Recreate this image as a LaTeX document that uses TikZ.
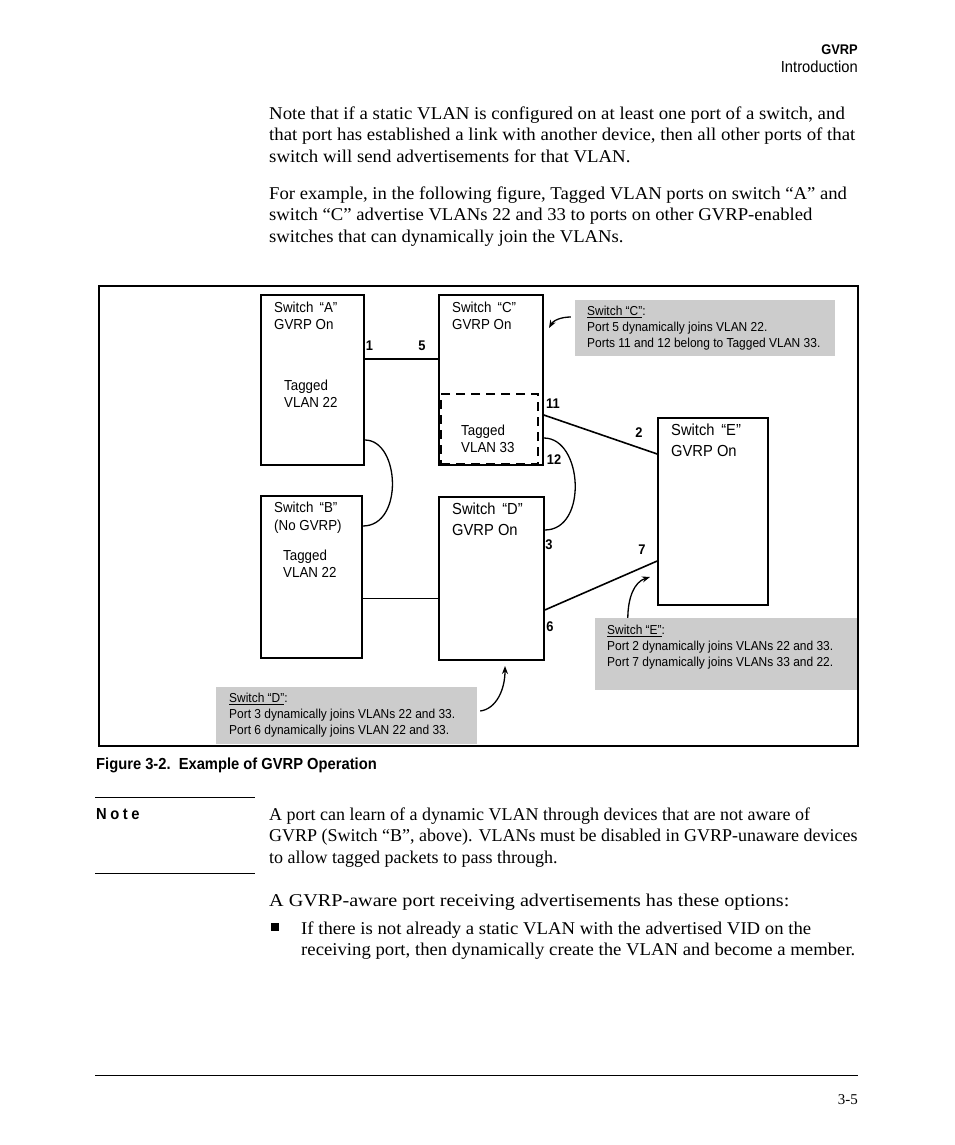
\documentclass[tikz,border=0pt]{standalone}
\usepackage{fontspec}
\setmainfont{Liberation Serif}
\newfontfamily\cond[FakeStretch=0.92]{Liberation Sans}
\usetikzlibrary{arrows.meta,positioning,calc}

\begin{document}
\begin{tikzpicture}[
  x=1pt, y=-1pt,
  every node/.style={inner sep=0pt},
  body/.style={font=\fontsize{18}{21.5}\selectfont\addfontfeature{FakeStretch=#1},
               anchor=base west, align=left},
  body/.default=1.04,
  lbl/.style={font=\cond\fontsize{14.5}{17.5}\selectfont, anchor=base west, align=left},
  biglbl/.style={font=\cond\fontsize{16}{20.5}\selectfont, anchor=base west, align=left},
  switchbox/.style={draw, line width=1.6pt},
  port/.style={font=\cond\bfseries\fontsize{14}{14}\selectfont, anchor=base},
  callout/.style={fill=gray!40},
  note/.style={font=\cond\fontsize{13}{16}\selectfont, anchor=base west, align=left},
  link/.style={line width=1.6pt},
  pointer/.style={line width=1.3pt, -{Stealth[length=8pt,width=6pt]}},
]
\useasboundingbox (0,0) rectangle (954,1145);

% page head
\node[font=\cond\bfseries\fontsize{14}{14}\selectfont, anchor=base east] (head) at (858,54.5) {GVRP};
\node[font=\cond\fontsize{16}{16}\selectfont, anchor=base east] (section) at (858,72.5) {Introduction};

% multi-line nodes sit on the baseline of their last line
\node[body=1.046] (para1) at (269,162)
  {Note that if a static VLAN is configured on at least one port of a switch, and\\
   that port has established a link with another device, then all other ports of that\\
   switch will send advertisements for that VLAN.};
\node[body=1.038] (para2) at (269,242)
  {For example, in the following figure, Tagged VLAN ports on switch “A” and\\
   switch “C” advertise VLANs 22 and 33 to ports on other GVRP-enabled\\
   switches that can dynamically join the VLANs.};

% callouts (under the frame)
\node[callout, minimum width=260, minimum height=56] (noteC) at (705,328) {};
\node[callout, minimum width=262, minimum height=72] (noteE) at (726,654) {};
\node[callout, minimum width=261, minimum height=57] (noteD) at (346.5,715.5) {};
\node[note] (noteCtext) at (587,347.5)
  {\underline{Switch “C”}:\\Port 5 dynamically joins VLAN 22.\\Ports 11 and 12 belong to Tagged VLAN 33.};
\node[note] (noteEtext) at (607,666.5)
  {\underline{Switch “E”}:\\Port 2 dynamically joins VLANs 22 and 33.\\Port 7 dynamically joins VLANs 33 and 22.};
\node[note] (noteDtext) at (229,734.5)
  {\underline{Switch “D”}:\\Port 3 dynamically joins VLANs 22 and 33.\\Port 6 dynamically joins VLAN 22 and 33.};

% switches
\node[switchbox, minimum width=103, minimum height=170] (swA) at (312.5,380) {};
\node[switchbox, minimum width=104, minimum height=170] (swC) at (491,380) {};
\node[switchbox, minimum width=101, minimum height=162] (swB) at (311.5,577) {};
\node[switchbox, minimum width=105, minimum height=163] (swD) at (491.5,578.5) {};
\node[switchbox, minimum width=110, minimum height=187] (swE) at (713,511.5) {};
\node[draw, line width=1.6pt, dash pattern=on 9pt off 6pt,
      minimum width=97, minimum height=70] (vlan33) at (489.5,429) {};

\node[lbl] (labelA) at (274,329.5) {Switch \,“A”\\GVRP On};
\node[lbl] (vlanA) at (284,407.5) {Tagged\\VLAN 22};
\node[lbl] (labelC) at (452,329.5) {Switch \,“C”\\GVRP On};
\node[lbl] (vlanC) at (461,452.5) {Tagged\\VLAN 33};
\node[lbl] (labelB) at (274,530) {Switch \,“B”\\(No GVRP)};
\node[lbl] (vlanB) at (283,577.5) {Tagged\\VLAN 22};
\node[biglbl] (labelD) at (452,535) {Switch \,“D”\\GVRP On};
\node[biglbl] (labelE) at (671,456) {Switch \,“E”\\GVRP On};

% ports
\coordinate (p1) at (swA.east |- 0,359);
\coordinate (p5) at (swC.west |- 0,359);
\coordinate (p11) at (swC.east |- 0,415);
\coordinate (p2) at (swE.west |- 0,454);
\coordinate (p6) at (swD.east |- 0,610);
\coordinate (p7) at (swE.west |- 0,561);
\coordinate (pB) at (swB.east |- 0,598);
\coordinate (pD) at (swD.west |- 0,598);

\node[port] (n1) at (369.5,350.5) {1};
\node[port] (n5) at (422,350.5) {5};
\node[port] (n11) at (553,408) {11};
\node[port] (n12) at (554,464) {12};
\node[port] (n2) at (639,437) {2};
\node[port] (n3) at (549,549) {3};
\node[port] (n7) at (642,554) {7};
\node[port] (n6) at (550,631) {6};

% links
\draw[link] (p1) -- (p5);
\draw[line width=0.8pt] (pB) -- (pD);
\draw[link] (p11) -- (p2);
\draw[link] (p6) -- (p7);
\draw[line width=1.3pt] (swA.east |- 0,440) .. controls (400,440) and (404,526) .. (swB.east |- 0,526);
\draw[line width=1.3pt] (swC.east |- 0,438) .. controls (583,438) and (588,530) .. (swD.east |- 0,530);

% pointers
\draw[pointer] ([xshift=-4pt]noteC.west |- 0,317) .. controls (560,317) and (553,321) .. (549,328);
\draw[pointer] ([xshift=3pt]noteD.east |- 0,711) .. controls (496,709) and (505,690) .. (505,666);
\draw[pointer] ([xshift=33pt]noteE.north west) .. controls (628,598) and (634,582) .. (650,577);

% frame
\draw[line width=1.6pt] (99,286) rectangle (858,746);

\node[font=\cond\bfseries\fontsize{16}{16}\selectfont, anchor=base west] (caption) at (96,769)
  {Figure 3-2.\ \ Example of GVRP Operation};

% note
\draw[line width=0.8pt] (95,797) -- (255,797);
\draw[line width=0.8pt] (95,873) -- (255,873);
\node[font=\cond\bfseries\fontsize{16}{16}\selectfont\addfontfeature{LetterSpace=22}, anchor=base west] (notehead) at (96,819) {Note};
\node[body=1.0] (notetext) at (269,863)
  {A port can learn of a dynamic VLAN through devices that are not aware of\\
   GVRP (Switch “B”, above). VLANs must be disabled in GVRP-unaware devices\\
   to allow tagged packets to pass through.};
\node[body=1.12] (para3) at (269,906) {A GVRP-aware port receiving advertisements has these options:};
\fill (271,923) rectangle (279,931);
\node[body=1.04] (item1) at (301,955.5)
  {If there is not already a static VLAN with the advertised VID on the\\
   receiving port, then dynamically create the VLAN and become a member.};

% page foot
\draw[line width=0.8pt] (95,1075) -- (858,1075);
\node[font=\fontsize{15}{15}\selectfont, anchor=base east] (pageno) at (858,1104) {3-5};
\end{tikzpicture}
\end{document}
